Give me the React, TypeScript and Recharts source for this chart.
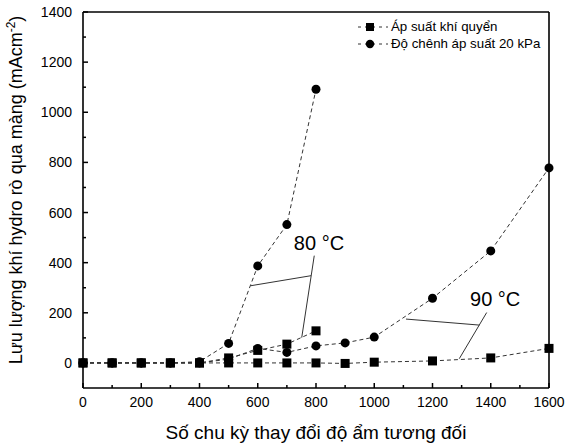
import React from "react";
import {
  LineChart,
  Line,
  XAxis,
  YAxis,
  ReferenceLine,
  ReferenceDot,
} from "recharts";

const cycles80 = [0, 100, 200, 300, 400, 500, 600, 700, 800];
const atm80 = [0, 0, 0, 0, 0, 20, 50, 75, 128];
const diff80 = [0, 0, 0, 0, 5, 78, 387, 552, 1092];

const cycles90 = [0, 100, 200, 300, 400, 500, 600, 700, 800, 900, 1000, 1200, 1400, 1600];
const atm90 = [0, 0, 0, 0, 0, 0, 0, 0, 0, -2, 3, 8, 20, 58];
const diff90 = [0, 0, 0, 0, 0, 15, 58, 42, 68, 80, 103, 258, 447, 778];

const xTicks = [0, 100, 200, 300, 400, 500, 600, 700, 800, 900, 1000, 1100, 1200, 1300, 1400, 1500, 1600];
const yTicks = [0, 100, 200, 300, 400, 500, 600, 700, 800, 900, 1000, 1100, 1200, 1300, 1400];

const legendNames = ["Áp suất khí quyển", "Độ chênh áp suất 20 kPa"];

const FONT = "Arial, 'Liberation Sans', sans-serif";

const toRows = (xs: number[], ys: number[]) => xs.map((x, i) => ({ x, y: ys[i] }));

const SquareDot = (props: any) => {
  const { cx, cy, index } = props;
  if (cx == null || cy == null) return <g key={index} />;
  return <rect key={index} x={cx - 4.5} y={cy - 4.5} width={9} height={9} fill="#000" />;
};

const XTick = (props: any) => {
  const { x, y, payload } = props;
  const major = payload.value % 200 === 0;
  return (
    <g>
      <line x1={x} x2={x} y1={y} y2={y - (major ? 5 : 3)} stroke="#000" strokeWidth={1.5} />
      {major && (
        <text x={x} y={y + 19} textAnchor="middle" fontSize={14} fill="#000" fontFamily={FONT}>
          {payload.value}
        </text>
      )}
    </g>
  );
};

const YTick = (props: any) => {
  const { x, y, payload } = props;
  const major = payload.value % 200 === 0;
  return (
    <g>
      <line x1={x} x2={x + (major ? 5 : 3)} y1={y} y2={y} stroke="#000" strokeWidth={1.5} />
      {major && (
        <text x={x - 11} y={y + 5} textAnchor="end" fontSize={14} fill="#000" fontFamily={FONT}>
          {payload.value}
        </text>
      )}
    </g>
  );
};

const YTitle = () => (
  <text
    x={22}
    y={190}
    transform="rotate(-90, 22, 190)"
    textAnchor="middle"
    fontSize={18}
    fill="#000"
    fontFamily={FONT}
  >
    Lưu lượng khí hydro rò qua màng (mAcm
    <tspan dy={-7} fontSize={12}>-2</tspan>
    <tspan dy={7}>)</tspan>
  </text>
);

const XTitle = () => (
  <text x={316} y={439} textAnchor="middle" fontSize={19} fill="#000" fontFamily={FONT}>
    Số chu kỳ thay đổi độ ẩm tương đối
  </text>
);

const LegendBox = () => (
  <div
    style={{
      position: "absolute",
      left: 358,
      top: 18,
      fontFamily: FONT,
      fontSize: 13.3,
      color: "#000",
      lineHeight: "17px",
    }}
  >
    {legendNames.map((name, i) => (
      <div key={name} style={{ display: "flex", alignItems: "center" }}>
        <svg width={30} height={12} style={{ marginRight: 3 }}>
          <line x1={0} x2={30} y1={6} y2={6} stroke="#333" strokeDasharray="3 4" />
          {i === 0 ? (
            <rect x={8} y={2} width={8} height={8} fill="#000" />
          ) : (
            <circle cx={12} cy={6} r={4.2} fill="#000" />
          )}
        </svg>
        <span>{name}</span>
      </div>
    ))}
  </div>
);

export default function App() {
  const lineProps = {
    type: "linear" as const,
    dataKey: "y",
    stroke: "#333",
    strokeWidth: 1,
    strokeDasharray: "4 3",
    isAnimationActive: false,
  };
  return (
    <div style={{ position: "absolute", left: 0, top: 0, width: 579, height: 445, background: "#fff" }}>
      <LineChart width={579} height={445} margin={{ top: 12, right: 30, left: 0, bottom: 0 }}>
        <XAxis
          type="number"
          dataKey="x"
          domain={[0, 1600]}
          ticks={xTicks}
          interval={0}
          height={57}
          tickSize={0}
          tickMargin={0}
          tick={<XTick />}
          axisLine={{ stroke: "#000", strokeWidth: 1.6 }}
          allowDuplicatedCategory={false}
          label={<XTitle />}
        />
        <YAxis
          type="number"
          domain={[-100, 1400]}
          ticks={yTicks}
          interval={0}
          width={83}
          tickSize={0}
          tickMargin={0}
          tick={<YTick />}
          axisLine={{ stroke: "#000", strokeWidth: 1.6 }}
          label={<YTitle />}
        />
        <ReferenceLine y={1400} stroke="#000" strokeWidth={1.6} />
        <ReferenceLine x={1600} stroke="#000" strokeWidth={1.6} />
        <ReferenceLine segment={[{ x: 576, y: 308 }, { x: 783, y: 348 }]} stroke="#333" strokeWidth={1} />
        <ReferenceLine segment={[{ x: 794, y: 428 }, { x: 751, y: 101 }]} stroke="#333" strokeWidth={1} />
        <ReferenceLine segment={[{ x: 1109, y: 175 }, { x: 1361, y: 151 }]} stroke="#333" strokeWidth={1} />
        <ReferenceLine segment={[{ x: 1386, y: 201 }, { x: 1292, y: 17 }]} stroke="#333" strokeWidth={1} />
        <ReferenceDot
          x={724}
          y={480}
          r={0}
          fill="none"
          stroke="none"
          label={{ value: "80 °C", position: "right", offset: 0, fontSize: 20, fill: "#000", fontFamily: FONT }}
        />
        <ReferenceDot
          x={1329}
          y={254}
          r={0}
          fill="none"
          stroke="none"
          label={{ value: "90 °C", position: "right", offset: 0, fontSize: 20, fill: "#000", fontFamily: FONT }}
        />
        <Line {...lineProps} data={toRows(cycles90, atm90)} dot={<SquareDot />} />
        <Line {...lineProps} data={toRows(cycles90, diff90)} dot={{ r: 4.5, fill: "#000", stroke: "#000", strokeWidth: 0 }} />
        <Line {...lineProps} data={toRows(cycles80, atm80)} dot={<SquareDot />} />
        <Line {...lineProps} data={toRows(cycles80, diff80)} dot={{ r: 4.5, fill: "#000", stroke: "#000", strokeWidth: 0 }} />
      </LineChart>
      <LegendBox />
    </div>
  );
}
